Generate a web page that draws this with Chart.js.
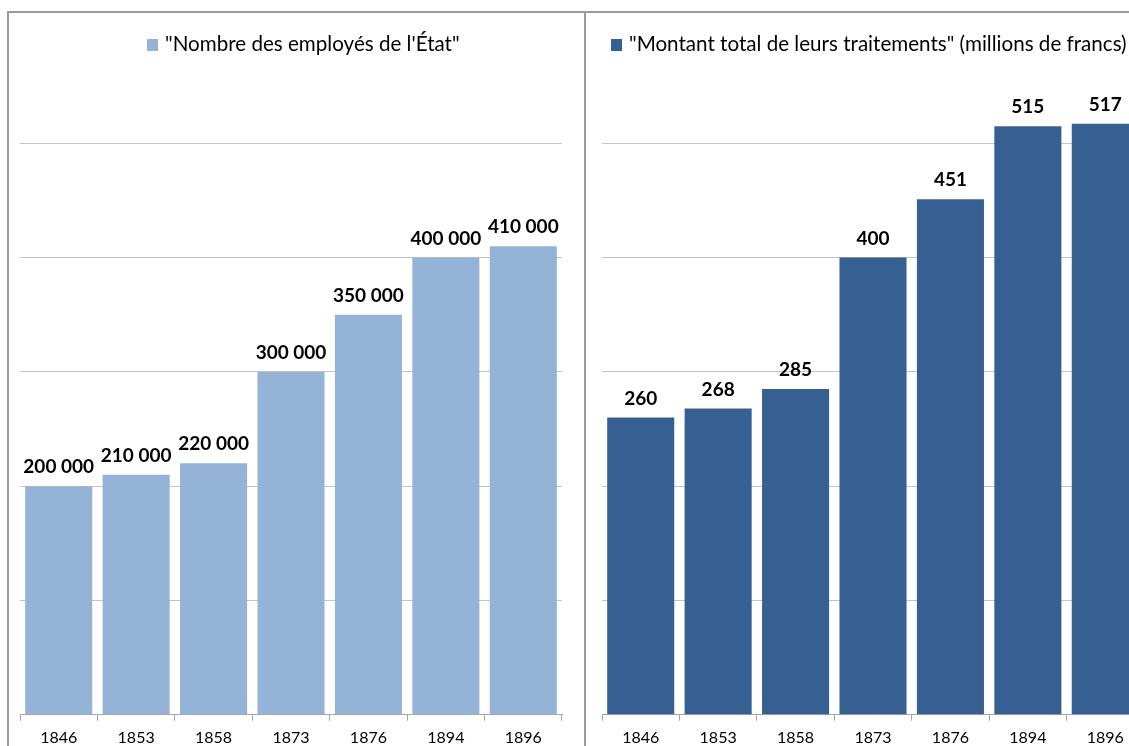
<!DOCTYPE html>
<html>
<head>
<meta charset="utf-8">
<script src="https://cdn.jsdelivr.net/npm/chart.js@4"></script>
<style>
  html, body { margin: 0; padding: 0; background: #fff; width: 1129px; height: 746px; overflow: hidden; position: relative; font-family: Lato, "Open Sans", sans-serif; }
  canvas { position: absolute; }
  .line { position: absolute; background: #9a9a9a; }
  .legend { position: absolute; font-size: 20.6px; color: #000; white-space: nowrap; line-height: 24px; }
  .legend span.box { display: inline-block; width: 11px; height: 12px; margin-right: 7px; vertical-align: 0px; }
</style>
</head>
<body>
<div class="line" style="left:8px; top:11px; width:1121px; height:2px;"></div>
<div class="line" style="left:7px; top:11px; width:2px; height:735px;"></div>
<div class="line" style="left:584px; top:11px; width:2px; height:735px;"></div>

<canvas id="c1" width="575" height="747" style="left:9px; top:13px;"></canvas>
<canvas id="c2" width="600" height="747" style="left:586px; top:13px;"></canvas>

<div class="legend" id="leg1" style="left:147px; top:31px;"><span class="box" style="background:#95b3d7"></span><span id="leg1t"></span></div>
<div class="legend" id="leg2" style="left:611px; top:31px;"><span class="box" style="background:#366092"></span><span id="leg2t"></span></div>

<script>
const years = ["1846", "1853", "1858", "1873", "1876", "1894", "1896"];
const employes = [200000, 210000, 220000, 300000, 350000, 400000, 410000];
const traitements = [260, 268, 285, 400, 451, 515, 517];
const label1 = "\"Nombre des employés de l'État\"";
const label2 = "\"Montant total de leurs traitements\" (millions de francs)";
const color1 = "#95b3d7";
const color2 = "#366092";

document.getElementById('leg1t').textContent = label1;
document.getElementById('leg2t').textContent = label2;

function fmtSpace(v) {
  return String(v).replace(/\B(?=(\d{3})+(?!\d))/g, ' ');
}

const dataLabels = {
  id: 'dataLabels',
  afterDatasetsDraw(chart, args, opts) {
    const ctx = chart.ctx;
    ctx.save();
    ctx.font = 'bold 19px Lato, "Open Sans", sans-serif';
    ctx.fillStyle = '#000';
    ctx.textAlign = 'center';
    ctx.textBaseline = 'middle';
    const ds = chart.data.datasets[0];
    chart.getDatasetMeta(0).data.forEach((bar, i) => {
      ctx.fillText(opts.fmt(ds.data[i]), bar.x, bar.y - 19);
    });
    ctx.restore();
  }
};

function makeChart(id, values, color, max, step, fmt, padding) {
  return new Chart(document.getElementById(id), {
    type: 'bar',
    data: {
      labels: years,
      datasets: [{ data: values, backgroundColor: color, barPercentage: 0.866, categoryPercentage: 1.0 }]
    },
    options: {
      responsive: false,
      animation: false,
      devicePixelRatio: 1,
      layout: { padding: padding },
      plugins: {
        legend: { display: false },
        tooltip: { enabled: false },
        dataLabels: { fmt: fmt }
      },
      scales: {
        x: {
          grid: { display: true, offset: true, drawOnChartArea: false, drawTicks: true, tickLength: 6, color: '#a6a6a6' },
          border: { display: true, color: '#a6a6a6', width: 1 },
          ticks: { color: '#000', font: { family: 'Lato, "Open Sans", sans-serif', size: 16 }, padding: 7, maxRotation: 0 }
        },
        y: {
          min: 0, max: max,
          ticks: { display: false, stepSize: step },
          border: { display: false },
          grid: {
            drawTicks: false,
            color: (c) => (c.tick && c.tick.value >= max) ? 'rgba(0,0,0,0)' : '#c4c4c4',
            lineWidth: 1
          }
        }
      }
    },
    plugins: [dataLabels]
  });
}

makeChart('c1', employes, color1, 600000, 100000, fmtSpace, { left: 11, right: 22, top: 16, bottom: 6 });
makeChart('c2', traitements, color2, 600, 100, (v) => String(v), { left: 16, right: 42, top: 16, bottom: 6 });
</script>
</body>
</html>
